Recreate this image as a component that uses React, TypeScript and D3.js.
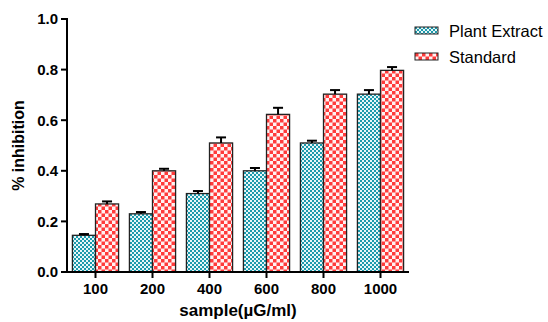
import React from "react";
import * as d3 from "d3";

const categories = ["100", "200", "400", "600", "800", "1000"];
const seriesNames = ["Plant Extract", "Standard"];
const plantValues = [0.145, 0.23, 0.31, 0.4, 0.51, 0.703];
const plantErrors = [0.005, 0.007, 0.01, 0.011, 0.009, 0.016];
const standardValues = [0.269, 0.4, 0.51, 0.623, 0.703, 0.797];
const standardErrors = [0.01, 0.008, 0.022, 0.026, 0.016, 0.013];
const yTicks = [0, 0.2, 0.4, 0.6, 0.8, 1.0];

const App = () => {
  const width = 548;
  const height = 322;
  const left = 67;
  const right = 409;
  const top = 19;
  const bottom = 272;

  const x = d3.scaleBand().domain(categories).range([left, right]).paddingInner(0.19).paddingOuter(0.095);
  const inner = d3.scaleBand().domain(seriesNames).range([0, x.bandwidth()]);
  const y = d3.scaleLinear().domain([0, 1]).range([bottom, top]);

  const series = [
    { name: seriesNames[0], values: plantValues, errors: plantErrors, fill: "url(#plantPat)" },
    { name: seriesNames[1], values: standardValues, errors: standardErrors, fill: "url(#stdPat)" },
  ];

  const font = "'Liberation Sans', Arial, sans-serif";

  return (
    <svg width={width} height={height} style={{ position: "absolute", left: 0, top: 0 }}>
      <defs>
        <pattern id="plantPat" width={4} height={4} patternUnits="userSpaceOnUse">
          <rect width={4} height={4} fill="#e8f6f8" />
          <rect width={2} height={2} fill="#1c9aac" />
          <rect x={2} y={2} width={2} height={2} fill="#1c9aac" />
        </pattern>
        <pattern id="stdPat" width={7} height={7} patternUnits="userSpaceOnUse">
          <rect width={7} height={7} fill="#fff2f2" />
          <rect width={3.5} height={3.5} fill="#ff3b3b" />
          <rect x={3.5} y={3.5} width={3.5} height={3.5} fill="#ff3b3b" />
        </pattern>
      </defs>
      <rect width={width} height={height} fill="#fff" />

      {series.map((s) =>
        categories.map((c, i) => {
          const bx = (x(c) ?? 0) + (inner(s.name) ?? 0);
          const bw = inner.bandwidth();
          const cx = bx + bw / 2;
          const yTop = y(s.values[i]);
          const yErr = y(s.values[i] + s.errors[i]);
          return (
            <g key={s.name + c}>
              <rect x={bx} y={yTop} width={bw} height={bottom - yTop} fill={s.fill} stroke="#222" strokeWidth={1.3} />
              <line x1={cx} x2={cx} y1={yTop} y2={yErr} stroke="#000" strokeWidth={2} />
              <line x1={cx - 5} x2={cx + 5} y1={yErr} y2={yErr} stroke="#000" strokeWidth={2} />
            </g>
          );
        })
      )}

      {/* y axis */}
      <line x1={left} x2={left} y1={top - 1} y2={bottom + 1} stroke="#000" strokeWidth={2} />
      {yTicks.map((t) => (
        <g key={t}>
          <line x1={left - 6} x2={left} y1={y(t)} y2={y(t)} stroke="#000" strokeWidth={2} />
          <text x={left - 9} y={y(t)} dy="0.36em" textAnchor="end" fontFamily={font} fontWeight="bold" fontSize={15}>
            {t.toFixed(1)}
          </text>
        </g>
      ))}
      <text
        transform={`translate(24,${(top + bottom) / 2}) rotate(-90)`}
        textAnchor="middle"
        fontFamily={font}
        fontWeight="bold"
        fontSize={16}
      >
        % inhibition
      </text>

      {/* x axis */}
      <line x1={left - 1} x2={right} y1={bottom} y2={bottom} stroke="#000" strokeWidth={2} />
      {categories.map((c) => {
        const cx = (x(c) ?? 0) + x.bandwidth() / 2;
        return (
          <g key={c}>
            <line x1={cx} x2={cx} y1={bottom} y2={bottom + 6} stroke="#000" strokeWidth={2} />
            <text x={cx} y={bottom + 22} textAnchor="middle" fontFamily={font} fontWeight="bold" fontSize={15}>
              {c}
            </text>
          </g>
        );
      })}
      <text x={(left + right) / 2} y={316} textAnchor="middle" fontFamily={font} fontWeight="bold" fontSize={17}>
        sample(µG/ml)
      </text>

      {/* legend */}
      {series.map((s, i) => (
        <g key={s.name} transform={`translate(415,${27 + i * 26})`}>
          <rect width={23} height={7} fill={s.fill} stroke="#222" strokeWidth={1} />
          <text x={34} y={4} dy="0.36em" fontFamily={font} fontSize={16.5}>
            {s.name}
          </text>
        </g>
      ))}
    </svg>
  );
};

export default App;
